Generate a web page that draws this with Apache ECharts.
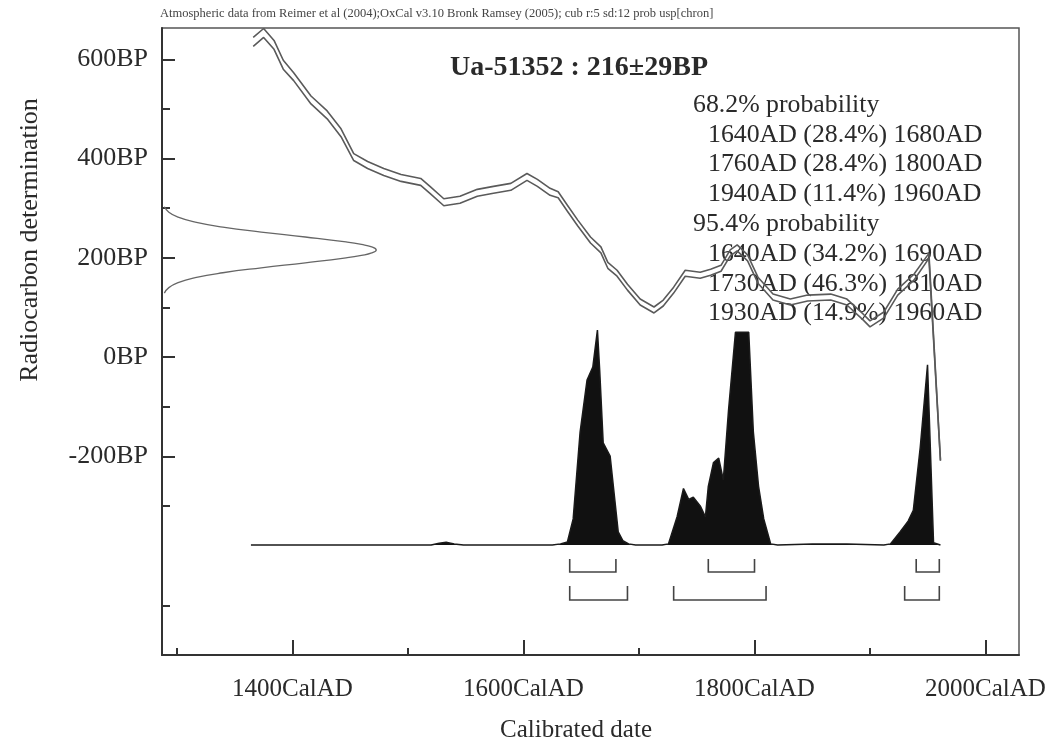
<!DOCTYPE html>
<html>
<head>
<meta charset="utf-8">
<script src="https://cdn.jsdelivr.net/npm/echarts@6/dist/echarts.min.js"></script>
<style>html,body{margin:0;padding:0;background:#fff;}#c{width:1057px;height:747px;}</style>
</head>
<body>
<div id="c"></div>
<script>
// ---------- data ----------
var headerText = 'Atmospheric data from Reimer et al (2004);OxCal v3.10 Bronk Ramsey (2005); cub r:5 sd:12 prob usp[chron]';
var titleText = 'Ua-51352 : 216\u00B129BP';
var yAxisTitle = 'Radiocarbon determination';
var xAxisTitle = 'Calibrated date';
var probLines = ['68.2% probability', '1640AD (28.4%) 1680AD', '1760AD (28.4%) 1800AD', '1940AD (11.4%) 1960AD',
                 '95.4% probability', '1640AD (34.2%) 1690AD', '1730AD (46.3%) 1810AD', '1930AD (14.9%) 1960AD'];
var probIndent = [0, 1, 1, 1, 0, 1, 1, 1];

var xMajorTicks = [1400, 1600, 1800, 2000];
var xMinorTicks = [1300, 1500, 1700, 1900];
var yMajorTicks = [-200, 0, 200, 400, 600];
var yMinorTicks = [-500, -300, -100, 100, 300, 500];

// calibration curve (centre and 1-sigma half width, BP)
var calYears = [1366,1375,1384,1392,1401,1416,1430,1442,1453,1465,1479,1494,1511,1519,1531,1545,1560,1574,1589,1603,1612,1623,1630,1638,1647,1658,1667,1673,1681,1690,1701,1713,1721,1730,1740,1753,1762,1771,1779,1785,1794,1803,1816,1831,1846,1866,1880,1894,1900,1912,1924,1938,1951,1961];
var calBP    = [635,653,629,589,565,518,488,452,403,387,373,361,353,337,312,317,331,337,343,363,351,333,327,300,270,236,216,185,169,141,111,95,109,135,169,165,171,179,210,220,200,155,121,111,119,121,111,81,67,85,131,161,204,-208];
var calErr   = [9,9,9,9,8,8,8,8,7,7,7,7,7,7,7,7,7,7,7,7,7,7,6,6,6,6,6,6,6,6,6,6,6,6,6,6,6,6,6,6,6,6,6,6,6,6,6,6,6,6,6,6,5,1];

// radiocarbon measurement distribution (BP, relative density)
var gaussBP      = [129,140,150,160,170,180,190,200,205,210,216,222,227,232,242,252,262,272,282,292,303];
var gaussDensity = [0.011,0.032,0.075,0.155,0.284,0.463,0.669,0.859,0.931,0.979,1,0.979,0.931,0.859,0.669,0.463,0.284,0.155,0.075,0.032,0.011];

// calibrated date distribution (CalAD, relative density)
var distYears   = [1364,1520,1527,1533,1540,1548,1625,1632,1638,1643,1649,1655,1660,1664,1666,1669,1675,1682,1686,1691,1697,1720,1725.5,1733,1738.5,1743,1747,1753,1757.5,1760,1764.5,1769,1773,1777.5,1783.5,1795,1799,1803.5,1808,1814,1820,1850,1880,1912,1917.7,1926,1933,1937.5,1943.5,1949.8,1952.4,1955,1961];
var distDensity = [0,0,0.008,0.012,0.005,0,0,0.005,0.014,0.12,0.52,0.76,0.82,0.99,0.80,0.47,0.41,0.06,0.02,0.005,0,0,0.005,0.13,0.26,0.21,0.22,0.18,0.13,0.27,0.38,0.40,0.30,0.62,0.98,0.98,0.52,0.27,0.12,0.005,0,0.005,0.004,0,0.005,0.06,0.11,0.16,0.45,0.83,0.42,0.01,0];

// probability ranges [start, end, row]
var rangeStarts = [1640,1760,1940,1640,1730,1930];
var rangeEnds   = [1680,1800,1960,1690,1810,1960];
var rangeRows   = [0,0,0,1,1,1];

// ---------- build ----------
var FONT = '"Liberation Serif", "Times New Roman", serif';
var TXT = '#2a2a2a';
function zip(a, b) { return a.map(function (v, i) { return [v, b[i]]; }); }
var calUpper = calYears.map(function (y, i) { return [y, calBP[i] + calErr[i]]; });
var calLower = calYears.map(function (y, i) { return [y, calBP[i] - calErr[i]]; });
var gaussData = gaussDensity.map(function (d, i) { return [d, gaussBP[i]]; });
var distData = zip(distYears, distDensity);
var rangeData = rangeStarts.map(function (s, i) { return [s, rangeEnds[i], rangeRows[i]]; });

var graphics = [
  { type: 'text', left: 160, top: 7, style: { text: headerText, font: '12.5px ' + FONT, fill: '#444' } },
  { type: 'text', x: 579, y: 68, style: { text: titleText, font: 'bold 28px ' + FONT, fill: TXT, align: 'center', verticalAlign: 'middle' } },
  { type: 'text', x: 30, y: 240, rotation: Math.PI / 2, style: { text: yAxisTitle, font: '26px ' + FONT, fill: TXT, align: 'center', verticalAlign: 'middle' } },
  { type: 'text', x: 576, y: 730, style: { text: xAxisTitle, font: '25px ' + FONT, fill: TXT, align: 'center', verticalAlign: 'middle' } }
];
probLines.forEach(function (t, i) {
  graphics.push({ type: 'text', x: probIndent[i] ? 708 : 693, y: 105 + i * 29.8,
    style: { text: t, font: '25.8px ' + FONT, fill: TXT, verticalAlign: 'middle' } });
});

var chart = echarts.init(document.getElementById('c'), null, { renderer: 'canvas' });
chart.setOption({
  animation: false,
  backgroundColor: '#fff',
  grid: { left: 162, top: 28, right: 38, bottom: 92, show: true, borderColor: '#555', borderWidth: 1.5, backgroundColor: 'transparent' },
  xAxis: [
    { type: 'value', min: 1287, max: 2029, position: 'bottom',
      axisLine: { show: true, onZero: false, lineStyle: { color: '#333', width: 2 } },
      axisTick: { show: true, inside: true, length: 15, customValues: xMajorTicks, lineStyle: { color: '#333', width: 2 } },
      axisLabel: { show: true, customValues: xMajorTicks, margin: 22, fontFamily: FONT, fontSize: 25, color: TXT,
        formatter: function (v) { return v + 'CalAD'; } },
      splitLine: { show: false } },
    { type: 'value', min: 1287, max: 2029, position: 'bottom',
      axisLine: { show: false, onZero: false },
      axisTick: { show: true, inside: true, length: 7, customValues: xMinorTicks, lineStyle: { color: '#333', width: 2 } },
      axisLabel: { show: false }, splitLine: { show: false } },
    { type: 'value', min: 0, max: 4, show: false, axisLine: { onZero: false } }
  ],
  yAxis: [
    { type: 'value', min: -600, max: 663, position: 'left',
      axisLine: { show: true, onZero: false, lineStyle: { color: '#333', width: 2 } },
      axisTick: { show: true, inside: true, length: 13, customValues: yMajorTicks, lineStyle: { color: '#333', width: 2 } },
      axisLabel: { show: true, customValues: yMajorTicks, margin: 14, fontFamily: FONT, fontSize: 26, color: TXT,
        formatter: function (v) { return v + 'BP'; } },
      splitLine: { show: false } },
    { type: 'value', min: -600, max: 663, position: 'left',
      axisLine: { show: false, onZero: false },
      axisTick: { show: true, inside: true, length: 8, customValues: yMinorTicks, lineStyle: { color: '#333', width: 2 } },
      axisLabel: { show: false }, splitLine: { show: false } },
    { type: 'value', min: -0.507, max: 2.382, show: false, axisLine: { onZero: false } }
  ],
  graphic: graphics,
  series: [
    { type: 'line', name: 'dist', xAxisIndex: 0, yAxisIndex: 2, data: distData, symbol: 'none', z: 2,
      lineStyle: { color: '#1a1a1a', width: 1.5 }, itemStyle: { color: '#111' }, areaStyle: { color: '#111', opacity: 1, origin: 0 } },
    { type: 'line', name: 'calUpper', xAxisIndex: 0, yAxisIndex: 0, data: calUpper, symbol: 'none', smooth: false, z: 4,
      lineStyle: { color: '#5a5a5a', width: 1.6 } },
    { type: 'line', name: 'calLower', xAxisIndex: 0, yAxisIndex: 0, data: calLower, symbol: 'none', smooth: false, z: 4,
      lineStyle: { color: '#5a5a5a', width: 1.6 } },
    { type: 'line', name: 'gauss', xAxisIndex: 2, yAxisIndex: 0, data: gaussData, symbol: 'none', smooth: true, z: 4,
      lineStyle: { color: '#666', width: 1.3 } },
    { type: 'custom', name: 'ranges', xAxisIndex: 0, yAxisIndex: 2, data: rangeData, z: 5,
      renderItem: function (params, api) {
        var p1 = api.coord([api.value(0), 0]);
        var p2 = api.coord([api.value(1), 0]);
        var row = api.value(2);
        var top = p1[1] + (row ? 41 : 14);
        var bot = p1[1] + (row ? 55 : 27);
        return { type: 'polyline', shape: { points: [[p1[0], top], [p1[0], bot], [p2[0], bot], [p2[0], top]] },
          style: { stroke: '#444', lineWidth: 1.6, fill: null } };
      } }
  ]
});
</script>
</body>
</html>
